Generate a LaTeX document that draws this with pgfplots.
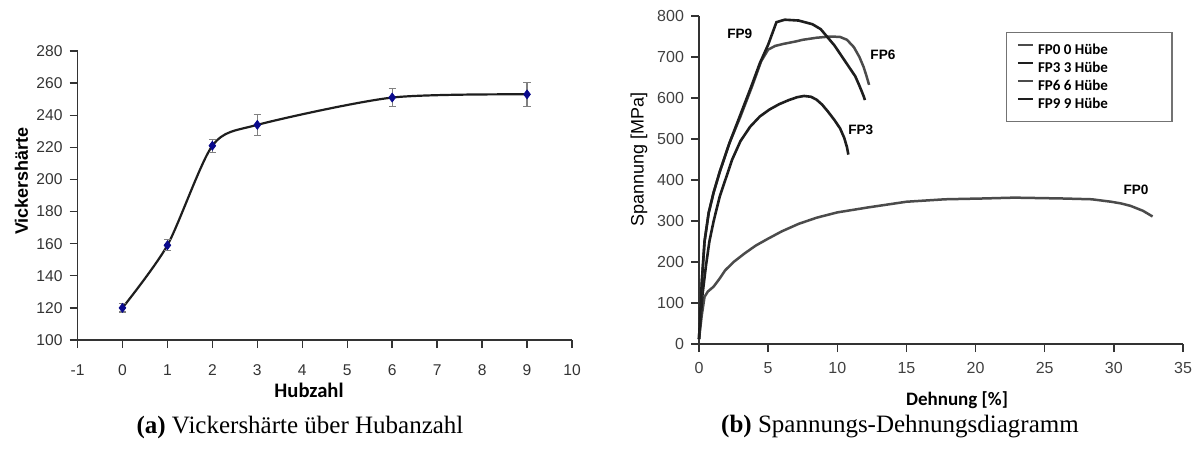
\documentclass[border=0pt]{standalone}
\usepackage{pgfplots}
\pgfplotsset{compat=1.18}
\usepackage{fontspec}
\setmainfont{Liberation Serif}
\newfontfamily\arial{Liberation Sans}
\newfontfamily\calibri{Carlito}
\definecolor{ticktext}{HTML}{333333}
\definecolor{curve}{HTML}{1E1E1E}
\definecolor{mk}{HTML}{0A0A8C}
\begin{document}
\begin{tikzpicture}
\useasboundingbox (0,0) rectangle (597pt,225.5pt);
\pgfplotsset{
  xlstyle/.style={
    scale only axis,
    axis x line=bottom, axis y line=left,
    axis line style={-, line width=0.8pt, color=black!80},
    tick align=outside,
    major tick length=4pt,
    tick style={line width=0.7pt, color=black!80},
    /pgf/number format/assume math mode=true,
    clip=false,
  }
}
% ---------- left: Vickers hardness ----------
\begin{axis}[xlstyle,
  at={(38.75pt,55.5pt)}, anchor=south west,
  width=247.25pt, height=144.5pt,
  xmin=-1, xmax=10, ymin=100, ymax=280,
  xtick={-1,0,...,10}, ytick={100,120,...,280},
  tick label style={font=\fontsize{7.8}{9}\selectfont\arial, text=ticktext},
  xticklabel style={yshift=-5pt},
  ]
\addplot[curve, line width=1.1pt, smooth, tension=0.45, forget plot]
  coordinates {(0,120) (1,159) (2,221) (3,234) (6,251) (9,253)};
\addplot[only marks, mark=diamond*, mark size=2.2pt, mark options={fill=mk, draw=mk},
  error bars/.cd, y dir=both, y explicit,
  error bar style={gray, line width=0.6pt},
  error mark options={rotate=90, mark size=1.8pt, gray, line width=0.6pt}]
  coordinates {
  (0,120) +- (0,2.5)
  (1,159) +- (0,3.5)
  (2,221) +- (0,4)
  (3,234) +- (0,6.5)
  (6,251) +- (0,5.5)
  (9,253) +- (0,7.5)
  };
\end{axis}
\node[font=\fontsize{10.3}{12}\selectfont\calibri\bfseries] at (154.5pt,30.5pt) {Hubzahl};
\node[font=\fontsize{9}{11}\selectfont\arial\bfseries, rotate=90] at (10.75pt,135pt) {Vickershärte};
\node[font=\fontsize{12.5}{14}\selectfont] at (150pt,12pt) {\textbf{(a)} Vickershärte über Hubanzahl};
% ---------- right: stress-strain ----------
\begin{axis}[xlstyle,
  at={(349.5pt,53.5pt)}, anchor=south west,
  width=242pt, height=164pt,
  xmin=0, xmax=35, ymin=0, ymax=800,
  xtick={0,5,...,35}, ytick={0,100,...,800},
  tick label style={font=\fontsize{8}{9}\selectfont\arial, text=black!75},
  xticklabel style={yshift=-1.5pt},
  legend style={at={(0.634,0.951)}, anchor=north west, draw=black!55, line width=0.6pt,
    font=\fontsize{7.5}{9}\selectfont\calibri\bfseries,
    inner xsep=5pt, inner ysep=5pt, row sep=1.5pt,
    nodes={inner ysep=0pt, text height=6pt, text depth=1.5pt},
    cells={anchor=west}},
  legend image code/.code={\draw[#1] (0pt,2.5pt) -- (7.5pt,2.5pt);},
  ]
\addplot[curve!80, line width=1.25pt]
  coordinates {(0,12) (0.2,70) (0.4,115) (0.64,128) (1.06,140) (1.5,160) (1.9,180)
  (2.5,200) (3.3,221) (4.1,240) (5,257) (6,275) (7.2,293) (8.5,308) (10,321)
  (12.2,333) (15,347) (17.8,353) (20.6,355) (22.8,357) (24.5,356) (26.2,355)
  (28.4,353) (29.8,347) (30.5,343) (31.2,337) (32.1,325) (32.8,311)};
\addlegendentry{FP0 0 Hübe\hspace*{25pt}}
\addplot[curve, line width=1.3pt]
  coordinates {(0,12) (0.25,120) (0.5,190) (0.75,250) (1.06,300) (1.5,360) (1.9,400)
  (2.4,450) (3.0,495) (3.7,530) (4.4,555) (5.1,572) (5.8,585) (6.5,595) (7.1,602)
  (7.6,605) (8.1,603) (8.5,596) (8.9,584) (9.3,568) (9.8,546) (10.2,526) (10.5,503)
  (10.7,480) (10.8,462)};
\addlegendentry{FP3 3 Hübe\hspace*{25pt}}
\addplot[curve!80, line width=1.25pt]
  coordinates {(0,12) (0.2,150) (0.4,250) (0.7,320) (1.06,370) (1.5,420) (2.2,490)
  (3,555) (3.8,625) (4.5,690) (5,718) (5.5,727) (6.1,732) (7,738) (7.5,742) (8.5,747)
  (9.5,750) (10.2,749) (10.7,742) (11.2,724) (11.6,700) (11.9,676) (12.1,655) (12.3,632)};
\addlegendentry{FP6 6 Hübe\hspace*{25pt}}
\addplot[curve, line width=1.3pt]
  coordinates {(0,12) (0.2,150) (0.4,250) (0.7,320) (1.06,370) (1.5,420) (2.2,490)
  (3,560) (3.8,630) (4.4,685) (5,730) (5.6,785) (6.2,791) (7.2,789) (8.2,780)
  (8.8,768) (9.2,752) (9.8,728) (10.3,703) (10.8,678) (11.3,653) (11.6,630) (11.9,605)
  (12.0,595)};
\addlegendentry{FP9 9 Hübe\hspace*{25pt}}
\node[font=\fontsize{6.8}{8}\selectfont\arial\bfseries] at (axis cs:2.95,756) {FP9};
\node[font=\fontsize{6.8}{8}\selectfont\arial\bfseries] at (axis cs:13.3,705) {FP6};
\node[font=\fontsize{6.8}{8}\selectfont\arial\bfseries] at (axis cs:11.7,522) {FP3};
\node[font=\fontsize{6.8}{8}\selectfont\arial\bfseries] at (axis cs:31.6,375) {FP0};
\end{axis}
\node[font=\fontsize{9.5}{11}\selectfont\calibri\bfseries] at (478.5pt,25.5pt) {Dehnung [\%]};
\node[font=\fontsize{9}{11}\selectfont\arial, rotate=90] at (319.5pt,145.75pt) {Spannung [MPa]};
\node[font=\fontsize{12.5}{14}\selectfont] at (450pt,12pt) {\textbf{(b)} Spannungs-Dehnungsdiagramm};
\end{tikzpicture}
\end{document}
